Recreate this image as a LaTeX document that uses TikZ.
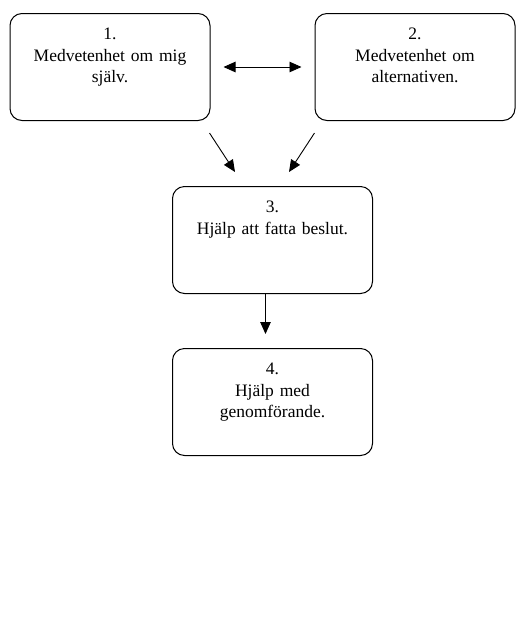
\documentclass[tikz,border=0pt]{standalone}
\usepackage{fontspec}
\setmainfont{Liberation Serif}
\usetikzlibrary{arrows.meta}
\begin{document}
\begin{tikzpicture}[x=1pt,y=1pt,
  box/.style={draw, line width=1pt, rounded corners=12pt, align=center,
    text width=200pt, inner sep=0pt, text height=26pt, text depth=81pt,
    font=\fontsize{17.5}{21.5}\selectfont},
  arr/.style={line width=0.9pt, -{Triangle[length=12pt,width=10.5pt]}},
  darr/.style={line width=0.9pt, {Triangle[length=12pt,width=10.5pt]}-{Triangle[length=12pt,width=10.5pt]}}]
\useasboundingbox (0,0) rectangle (529,-625);
\node[box, anchor=north] (b1) at (110,-13) {1.\\Medvetenhet om mig\\själv.};
\node[box, anchor=north] (b2) at (415,-13) {2.\\Medvetenhet om\\alternativen.};
\node[box, anchor=north] (b3) at (272.5,-186) {3.\\Hjälp att fatta beslut.};
\node[box, anchor=north] (b4) at (272.5,-348) {4.\\Hjälp med\\genomförande.};
\draw[darr] ([xshift=13pt]b1.east) -- ([xshift=-13pt]b2.west);
\draw[arr] ([shift={(-1pt,-12pt)}]b1.south east) -- ([shift={(-37.5pt,14pt)}]b3.north);
\draw[arr] ([shift={(0pt,-12pt)}]b2.south west) -- ([shift={(16.5pt,14pt)}]b3.north);
\draw[arr] ([xshift=-7pt]b3.south) -- ([shift={(-7pt,14pt)}]b4.north);
\end{tikzpicture}
\end{document}
